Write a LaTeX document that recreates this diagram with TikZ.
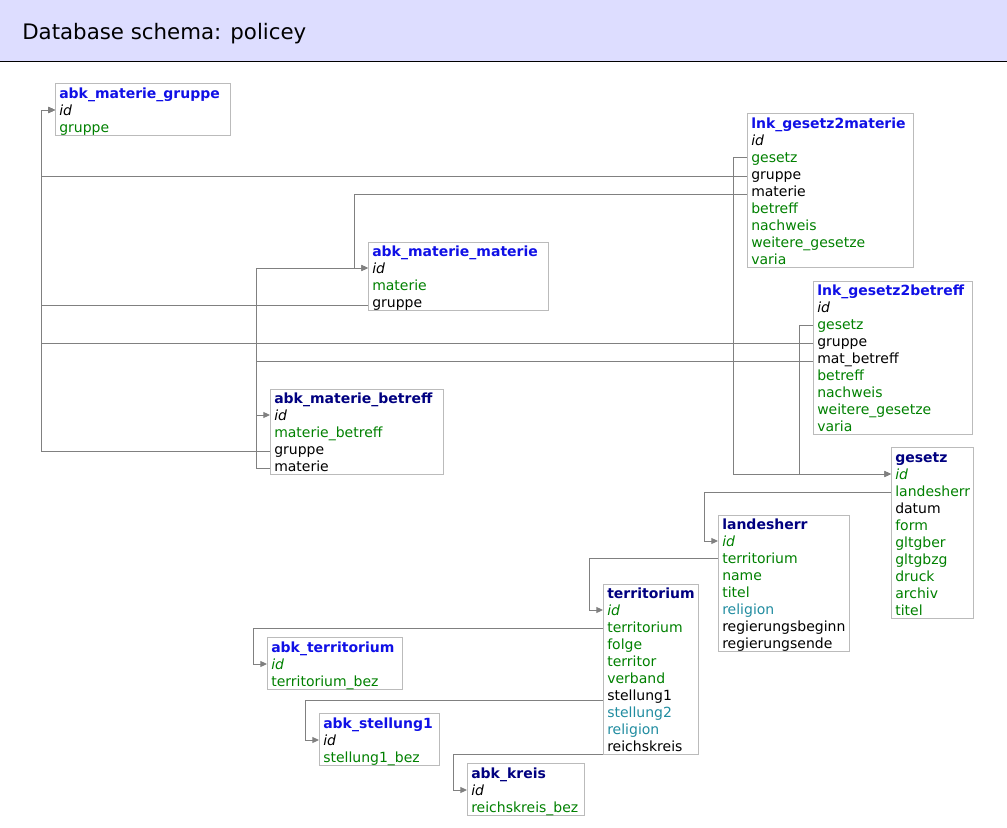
\documentclass[tikz,border=0pt]{standalone}
\usepackage{fontspec}
\setmainfont{DejaVu Sans}
\usetikzlibrary{arrows.meta,fit}

\definecolor{bandbg}{RGB}{221,221,255}
\definecolor{boxgray}{RGB}{187,187,187}
\definecolor{linkgray}{RGB}{128,128,128}
\definecolor{tblblue}{RGB}{16,16,230}
\definecolor{tblnavy}{RGB}{0,0,128}
\definecolor{fldgreen}{RGB}{0,128,0}
\definecolor{fldteal}{RGB}{32,140,160}

\newcommand\rowfont{\fontsize{10.5pt}{12pt}\selectfont}

\begin{document}
\begin{tikzpicture}[x=0.75pt, y=-0.75pt,
  tbl/.style={draw=boxgray, line width=0.75pt, inner sep=0pt},
  row/.style={anchor=west, inner xsep=3pt, inner ysep=0pt,
              text height=9pt, text depth=1.5pt, font=\rowfont},
  hdrb/.style={font=\rowfont\bfseries, text=tblblue},
  hdrn/.style={font=\rowfont\bfseries, text=tblnavy},
  pk/.style={font=\rowfont\itshape},
  pkg/.style={font=\rowfont\itshape, text=fldgreen},
  mand/.style={text=black},
  fld/.style={text=fldgreen},
  fldt/.style={text=fldteal},
  fk/.style={draw=linkgray, line width=0.75pt, -{Triangle[length=5pt, width=4.5pt]}},
]
\useasboundingbox (0,0) rectangle (1007,828);

%% ── Title band ──────────────────────────────────────────────────────────
\fill[bandbg] (0,0) rectangle (1007,61);
\draw[line width=0.75pt] (0,61.5) -- (1007,61.5);
\node[anchor=base west, inner sep=0pt, font=\fontsize{16pt}{19pt}\selectfont]
    (title) at (22,39.5) {Database schema: policey};

%% ── Materie tables ──────────────────────────────────────────────────────
\node[tbl, fit={(55,83) (230,135)}] (amg) {};
\foreach \txt/\sty [count=\i from 0] in {abk\_materie\_gruppe/hdrb, id/pk, gruppe/fld}
  \node[row, \sty] (amg-\i) at (55, 93+17*\i) {\txt};

\node[tbl, fit={(368,242) (548,310)}] (amm) {};
\foreach \txt/\sty [count=\i from 0] in {abk\_materie\_materie/hdrb, id/pk, materie/fld, gruppe/mand}
  \node[row, \sty] (amm-\i) at (368, 251+17*\i) {\txt};

\node[tbl, fit={(270,389) (443,474)}] (amb) {};
\foreach \txt/\sty [count=\i from 0] in {abk\_materie\_betreff/hdrn, id/pk, materie\_betreff/fld,
    gruppe/mand, materie/mand}
  \node[row, \sty] (amb-\i) at (270, 398+17*\i) {\txt};

%% ── Link tables ─────────────────────────────────────────────────────────
\node[tbl, fit={(747,113) (913,267)}] (g2m) {};
\foreach \txt/\sty [count=\i from 0] in {lnk\_gesetz2materie/hdrb, id/pk, gesetz/fld, gruppe/mand,
    materie/mand, betreff/fld, nachweis/fld, weitere\_gesetze/fld, varia/fld}
  \node[row, \sty] (g2m-\i) at (747, 123+17*\i) {\txt};

\node[tbl, fit={(813,281) (972,434)}] (g2b) {};
\foreach \txt/\sty [count=\i from 0] in {lnk\_gesetz2betreff/hdrb, id/pk, gesetz/fld, gruppe/mand,
    mat\_betreff/mand, betreff/fld, nachweis/fld, weitere\_gesetze/fld, varia/fld}
  \node[row, \sty] (g2b-\i) at (813, 290+17*\i) {\txt};

%% ── Gesetz, Landesherr, Territorium ─────────────────────────────────────
\node[tbl, fit={(891,447) (973,618)}] (ges) {};
\foreach \txt/\sty [count=\i from 0] in {gesetz/hdrn, id/pkg, landesherr/fld, datum/mand, form/fld,
    gltgber/fld, gltgbzg/fld, druck/fld, archiv/fld, titel/fld}
  \node[row, \sty] (ges-\i) at (891, 457+17*\i) {\txt};

\node[tbl, fit={(718,515) (849,651)}] (lh) {};
\foreach \txt/\sty [count=\i from 0] in {landesherr/hdrn, id/pkg, territorium/fld, name/fld,
    titel/fld, religion/fldt, regierungsbeginn/mand, regierungsende/mand}
  \node[row, \sty] (lh-\i) at (718, 524+17*\i) {\txt};

\node[tbl, fit={(603,584) (698,754)}] (terr) {};
\foreach \txt/\sty [count=\i from 0] in {territorium/hdrn, id/pkg, territorium/fld, folge/fld,
    territor/fld, verband/fld, stellung1/mand, stellung2/fldt, religion/fldt, reichskreis/mand}
  \node[row, \sty] (terr-\i) at (603, 593+17*\i) {\txt};

%% ── Lookup tables ───────────────────────────────────────────────────────
\node[tbl, fit={(267,637) (402,689)}] (aterr) {};
\foreach \txt/\sty [count=\i from 0] in {abk\_territorium/hdrb, id/pkg, territorium\_bez/fld}
  \node[row, \sty] (aterr-\i) at (267, 647+17*\i) {\txt};

\node[tbl, fit={(319,713) (439,765)}] (ast) {};
\foreach \txt/\sty [count=\i from 0] in {abk\_stellung1/hdrb, id/pk, stellung1\_bez/fld}
  \node[row, \sty] (ast-\i) at (319, 723+17*\i) {\txt};

\node[tbl, fit={(467,763) (584,815)}] (akr) {};
\foreach \txt/\sty [count=\i from 0] in {abk\_kreis/hdrn, id/pk, reichskreis\_bez/fld}
  \node[row, \sty] (akr-\i) at (467, 773+17*\i) {\txt};

%% ── Routing columns ─────────────────────────────────────────────────────
\coordinate (grpbus)  at (41,0);
\coordinate (matbus)  at (354,0);
\coordinate (mbbus)   at (256,0);
\coordinate (gesbus)  at (733,0);
\coordinate (gesbusb) at (799,0);
\coordinate (lhbus)   at (704,0);
\coordinate (terrbus) at (589,0);
\coordinate (atbus)   at (253,0);
\coordinate (stbus)   at (305,0);
\coordinate (krbus)   at (453,0);

%% ── Foreign keys ────────────────────────────────────────────────────────
\draw[fk] ([yshift=-1.5pt]g2m-3.west)  -| (grpbus |- amg-1.west) -- (amg-1.west);
\draw[fk] ([yshift=-2.25pt]amm-3.west) -| (grpbus |- amg-1.west) -- (amg-1.west);
\draw[fk] ([yshift=-1.5pt]g2b-3.west)  -| (grpbus |- amg-1.west) -- (amg-1.west);
\draw[fk] ([yshift=-1.5pt]amb-3.west)  -| (grpbus |- amg-1.west) -- (amg-1.west);

\draw[fk] ([yshift=-2.25pt]g2m-4.west) -| (matbus |- amm-1.west) -- (amm-1.west);
\draw[fk] ([yshift=-1.5pt]amb-4.west)  -| (mbbus |- amm-1.west) -- (amm-1.west);
\draw[fk] ([yshift=-2.25pt]g2b-4.west) -| (mbbus |- amb-1.west) -- (amb-1.west);

\draw[fk] (g2m-2.west) -| (gesbus |- ges-1.west) -- (ges-1.west);
\draw[fk] ([yshift=-0.75pt]g2b-2.west) -| (gesbusb |- ges-1.west) -- (ges-1.west);

\draw[fk] ([yshift=-0.75pt]ges-2.west) -| (lhbus |- lh-1.west) -- (lh-1.west);
\draw[fk] (lh-2.west) -| (terrbus |- terr-1.west) -- (terr-1.west);
\draw[fk] ([yshift=-0.75pt]terr-2.west) -| (atbus |- aterr-1.west) -- (aterr-1.west);
\draw[fk] ([yshift=-3.75pt]terr-6.west) -| (stbus |- ast-1.west) -- (ast-1.west);
\draw[fk] ([yshift=-6pt]terr-9.west)    -| (krbus |- akr-1.west) -- (akr-1.west);
\end{tikzpicture}
\end{document}
